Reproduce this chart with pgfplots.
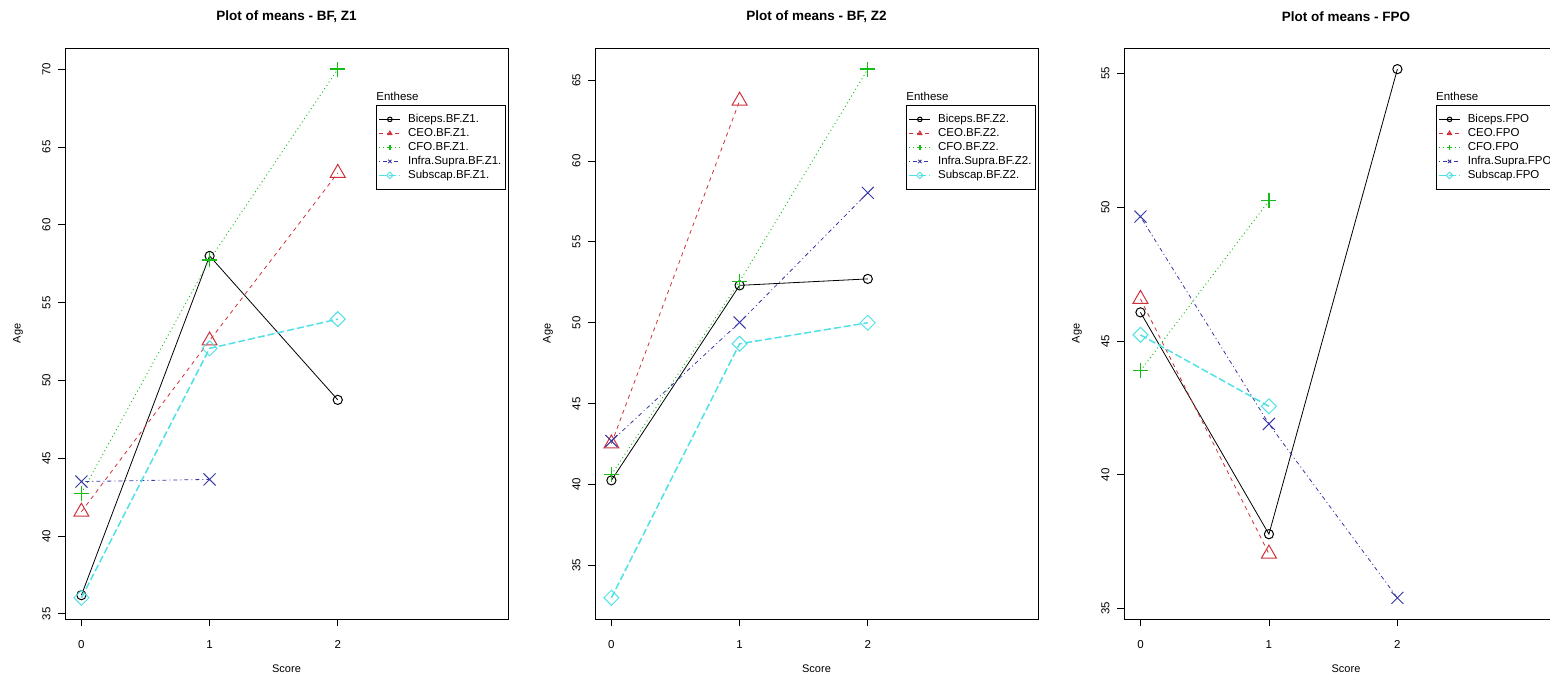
\documentclass[border=0pt]{standalone}
\usepackage{fontspec}
\setmainfont{Liberation Sans}
\usepackage{pgfplots}
\pgfplotsset{compat=1.18}

\definecolor{rred}{RGB}{205,50,60}
\definecolor{rgreen}{RGB}{20,190,20}
\definecolor{rblue}{RGB}{55,55,165}
\definecolor{rcyan}{RGB}{80,225,230}

\pgfdeclareplotmark{rplus}{%
  \pgfpathmoveto{\pgfqpoint{-\pgfplotmarksize}{0pt}}%
  \pgfpathlineto{\pgfqpoint{\pgfplotmarksize}{0pt}}%
  \pgfpathmoveto{\pgfqpoint{0pt}{-\pgfplotmarksize}}%
  \pgfpathlineto{\pgfqpoint{0pt}{\pgfplotmarksize}}%
  \pgfusepathqstroke}

\pgfplotsset{
  meansplot/.style={
    scale only axis, width=443pt, height=571pt,
    anchor=south west, clip=false,
    xmin=-0.128, xmax=3.328, xtick={0,1,2},
    axis line style={line width=0.8pt},
    tick align=outside, major tick length=7pt,
    xtick pos=bottom, ytick pos=left,
    tick style={black, line width=0.8pt},
    /pgf/number format/assume math mode=true,
    tick label style={font=\fontsize{11.5}{13}\selectfont},
    xticklabel style={yshift=-11pt},
    yticklabel style={xshift=-4pt, rotate=90, anchor=south},
    xlabel={Score}, ylabel={Age},
    label style={font=\fontsize{11}{13}\selectfont},
    xlabel style={at={(axis description cs:0.5,-0.0876)}, anchor=center},
    ylabel style={at={(axis description cs:-0.1061,0.5)}, anchor=center, rotate=0},
    every axis title shift=0pt,
    title style={at={(axis description cs:0.5,1.0543)}, anchor=center,
      font=\bfseries\fontsize{13.5}{16}\selectfont},
    legend style={at={(0.7025,0.9002)}, anchor=north west, draw=black,
      line width=0.8pt, font=\fontsize{11.5}{13}\selectfont,
      inner xsep=2pt, inner ysep=7pt, row sep=0pt,
      nodes={inner sep=1.5pt, text height=8.5pt, text depth=2.5pt},
      /tikz/every odd column/.append style={column sep=5.5pt}},
    legend cell align=left,
    legend image code/.code={
      \draw[mark repeat=2, mark phase=2, #1, mark size=2.3pt]
        plot coordinates {(0pt,0pt) (10.5pt,0pt) (21pt,0pt)};},
  },
  biceps/.style={black, line width=0.8pt, mark=o, mark size=4.6pt,
    mark options={solid, draw=black, line width=1pt}},
  ceo/.style={rred, line width=0.8pt, dash pattern=on 4pt off 4pt, mark=triangle,
    mark size=8.6pt, mark options={solid, draw=rred, line width=1pt}},
  cfo/.style={rgreen, line width=0.9pt, dash pattern=on 1pt off 3pt, mark=rplus,
    mark size=7.5pt, mark options={solid, draw=rgreen, line width=1.4pt}},
  infra/.style={rblue, line width=0.8pt, dash pattern=on 1pt off 3pt on 4pt off 3pt,
    mark=x, mark size=8.5pt, mark options={solid, draw=rblue, line width=1pt}},
  subscap/.style={rcyan, line width=1.5pt, dash pattern=on 7pt off 3pt, mark=square,
    mark size=5.3pt, mark options={solid, draw=rcyan, rotate=45, line width=1pt}},
}

\begin{document}
\begin{tikzpicture}
\useasboundingbox (0,0) rectangle (1550pt,-678pt);

% BF, Z1
\begin{axis}[meansplot, at={(65pt,-619pt)},
  title={Plot of means - BF, Z1},
  ymin=34.67, ymax=71.36, ytick={35,40,...,70}]
\addplot[biceps] coordinates {(0,36.2) (1,58.0) (2,48.75)};
\addplot[ceo] coordinates {(0,41.56) (1,52.56) (2,63.33)};
\addplot[cfo] coordinates {(0,42.75) (1,57.75) (2,70.0)};
\addplot[infra] coordinates {(0,43.5) (1,43.64)};
\addplot[subscap] coordinates {(0,36.03) (1,52.06) (2,53.94)};
\legend{Biceps.BF.Z1., CEO.BF.Z1., CFO.BF.Z1., Infra.Supra.BF.Z1., Subscap.BF.Z1.}
\node[anchor=base west, inner sep=0pt, font=\fontsize{11.5}{13}\selectfont]
  at (rel axis cs:0.7025,0.9072) {Enthese};
\end{axis}

% BF, Z2
\begin{axis}[meansplot, at={(595pt,-619pt)},
  title={Plot of means - BF, Z2},
  ymin=31.69, ymax=66.98, ytick={35,40,...,65}]
\addplot[biceps] coordinates {(0,40.26) (1,52.31) (2,52.71)};
\addplot[ceo] coordinates {(0,42.53) (1,63.72)};
\addplot[cfo] coordinates {(0,40.61) (1,52.55) (2,65.67)};
\addplot[infra] coordinates {(0,42.69) (1,50.02) (2,58.03)};
\addplot[subscap] coordinates {(0,33.0) (1,48.7) (2,50.0)};
\legend{Biceps.BF.Z2., CEO.BF.Z2., CFO.BF.Z2., Infra.Supra.BF.Z2., Subscap.BF.Z2.}
\node[anchor=base west, inner sep=0pt, font=\fontsize{11.5}{13}\selectfont]
  at (rel axis cs:0.7025,0.9072) {Enthese};
\end{axis}

% FPO
\begin{axis}[meansplot, at={(1124pt,-619pt)}, width=444pt,
  title={Plot of means - FPO},
  ymin=34.61, ymax=55.95, ytick={35,40,...,55}]
\addplot[biceps] coordinates {(0,46.07) (1,37.78) (2,55.16)};
\addplot[ceo] coordinates {(0,46.57) (1,37.05)};
\addplot[cfo] coordinates {(0,43.89) (1,50.24)};
\addplot[infra] coordinates {(0,49.65) (1,41.9) (2,35.4)};
\addplot[subscap] coordinates {(0,45.23) (1,42.56)};
\legend{Biceps.FPO, CEO.FPO, CFO.FPO, Infra.Supra.FPO, Subscap.FPO}
\node[anchor=base west, inner sep=0pt, font=\fontsize{11.5}{13}\selectfont]
  at (rel axis cs:0.7025,0.9072) {Enthese};
\end{axis}
\end{tikzpicture}
\end{document}
